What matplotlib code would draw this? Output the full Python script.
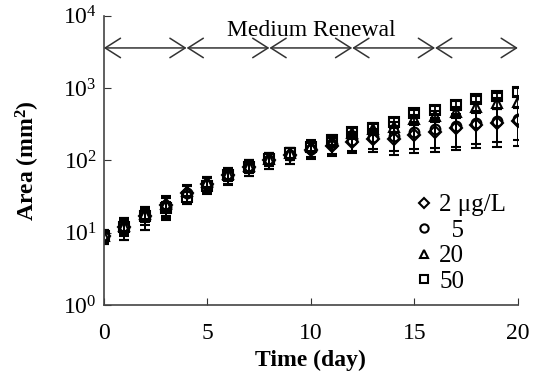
import matplotlib
matplotlib.use('Agg')
import matplotlib.pyplot as plt

plt.rcParams['font.family'] = ['Liberation Serif', 'DejaVu Serif']
plt.rcParams['mathtext.fontset'] = 'custom'
plt.rcParams['mathtext.rm'] = 'Liberation Serif'
plt.rcParams['mathtext.bf'] = 'Liberation Serif:bold'
plt.rcParams['mathtext.default'] = 'regular'

days = list(range(21))
labels = ['2 μg/L', '  5', '20', '50']
markers = ['D', 'o', '^', 's']

area_2 = [9, 12, 17, 24, 36, 47, 62, 80, 100, 118, 140, 160, 180, 195, 200, 225, 250, 280, 310, 335, 350]
area_5 = [9, 12, 17, 23, 35, 46, 63, 80, 102, 120, 145, 168, 190, 210, 215, 245, 270, 295, 330, 350, 370]
area_20 = [9, 12.5, 18, 25, 38, 50, 65, 85, 105, 125, 160, 190, 240, 270, 290, 370, 410, 470, 550, 620, 650]
area_50 = [9, 12, 17, 22, 31, 44, 62, 82, 105, 125, 155, 190, 250, 285, 345, 450, 500, 590, 710, 780, 890]

err_2 = [2, 4, 6, 8, 10, 12, 16, 20, 25, 30, 35, 45, 55, 65, 80, 100, 120, 140, 160, 180, 190]
err_5 = [2, 4, 6, 8, 10, 12, 16, 20, 25, 30, 35, 45, 55, 65, 80, 100, 120, 140, 160, 170, 180]
err_20 = [1.5, 3, 4, 5, 7, 9, 12, 15, 20, 25, 30, 35, 40, 45, 50, 60, 70, 80, 90, 100, 110]
err_50 = [1.5, 3, 4, 5, 6, 8, 10, 14, 18, 22, 25, 30, 35, 40, 45, 50, 60, 70, 80, 90, 100]

renewal_days = [0, 4, 8, 12, 16, 20]

fig = plt.figure(figsize=(5.35, 3.78), dpi=100)
ax = fig.add_axes([0.194, 0.193, 0.774, 0.765])

series = [(area_2, err_2), (area_5, err_5), (area_20, err_20), (area_50, err_50)]
for (vals, errs), mk, lab in zip(series, markers, labels):
    ms = 6 if mk == 'D' else 7
    ax.errorbar(days, vals, yerr=errs, fmt=mk, mfc='none', mec='black', ecolor='black',
                ms=ms, mew=1.5, elinewidth=1.3, capsize=3.5, capthick=1.3, label=lab)

# medium renewal arrows
for a, b in zip(renewal_days[:-1], renewal_days[1:]):
    ax.annotate('', xy=(a, 3600), xytext=(b, 3600),
                arrowprops=dict(arrowstyle='<->,head_length=0.55,head_width=0.35',
                                color='#333333', lw=1.1,
                                shrinkA=0, shrinkB=0, mutation_scale=20))
ax.text(10, 6300, 'Medium Renewal', ha='center', va='center', fontsize=17)

ax.set_yscale('log')
ax.set_xlim(0, 20)
ax.set_ylim(1, 1e4)
ax.set_xticks([0, 5, 10, 15, 20])
ax.set_yticks([1, 10, 100, 1000, 10000])
ax.minorticks_off()
ax.tick_params(direction='in', length=5, labelsize=17, color='#333333', pad=5)
ax.tick_params(axis='x', pad=13)
for s in ['top', 'right']:
    ax.spines[s].set_visible(False)
for s in ['left', 'bottom']:
    ax.spines[s].set_color('#444444')
    ax.spines[s].set_linewidth(1.2)

ax.set_xlabel('Time (day)', fontsize=17, fontweight='bold', labelpad=4)
ax.set_ylabel('Area (mm$^\\mathbf{2}$)', fontsize=17, fontweight='bold', labelpad=15)

handles, labs = ax.get_legend_handles_labels()
handles = [h[0] for h in handles]
ax.legend(handles, labs, loc='upper left', bbox_to_anchor=(0.725, 0.428), frameon=False,
          fontsize=18, handlelength=0.6, handletextpad=0.3, labelspacing=0.12,
          borderpad=0, markerscale=0.85)

fig.savefig('out.png', dpi=100)
